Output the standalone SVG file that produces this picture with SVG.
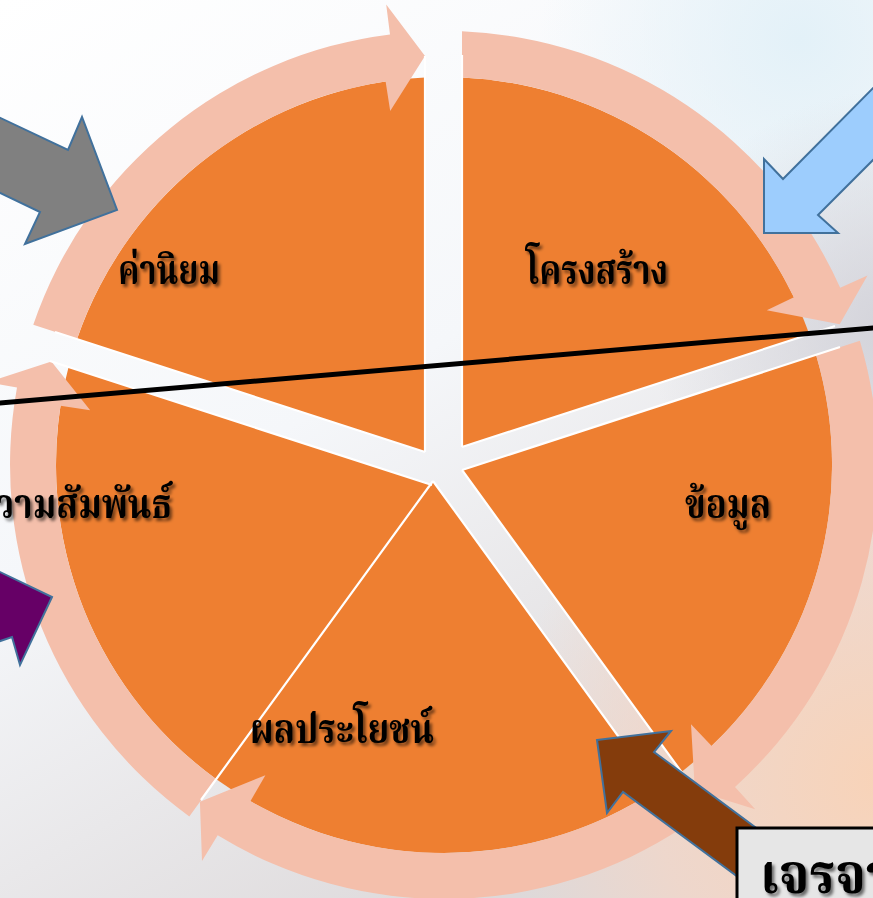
<svg xmlns="http://www.w3.org/2000/svg" width="873" height="898" viewBox="0 0 873 898">
<defs>
<linearGradient id="bg" gradientUnits="userSpaceOnUse" x1="0" y1="0" x2="500" y2="898">
<stop offset="0" stop-color="#ffffff"/><stop offset="0.5" stop-color="#f5f7fa"/><stop offset="1" stop-color="#ddd9da"/>
</linearGradient>
<radialGradient id="tr" gradientUnits="userSpaceOnUse" cx="800" cy="40" r="260">
<stop offset="0" stop-color="#e3f1f8"/><stop offset="1" stop-color="#e3f1f8" stop-opacity="0"/>
</radialGradient>
<radialGradient id="rm" gradientUnits="userSpaceOnUse" cx="890" cy="330" r="240">
<stop offset="0" stop-color="#d3d3da"/><stop offset="1" stop-color="#d3d3da" stop-opacity="0"/>
</radialGradient>
<radialGradient id="br" gradientUnits="userSpaceOnUse" cx="880" cy="780" r="380">
<stop offset="0" stop-color="#f8d3b8"/><stop offset="0.6" stop-color="#f5d6c6" stop-opacity="0.7"/><stop offset="1" stop-color="#f5d6c6" stop-opacity="0"/>
</radialGradient>
<filter id="sh" x="-20%" y="-30%" width="140%" height="160%">
<feDropShadow dx="2.5" dy="3" stdDeviation="1.5" flood-color="#000" flood-opacity="0.55"/>
</filter>
<style>
.seg{fill:#ee7f31}
.ring{fill:#f4bfab}
.edge{stroke:#fff;stroke-width:2.2;fill:none}
.lbl{font-family:"Noto Serif Thai","Noto Sans Thai Looped","Noto Sans Thai","Loma","Garuda","Noto Sans",sans-serif;font-weight:bold;font-size:40px;fill:#000;filter:url(#sh)}
.blk{stroke:#41719c;stroke-width:2;stroke-linejoin:miter}
</style>
</defs>
<g id="background">
<rect width="873" height="898" fill="url(#bg)"/>
<rect width="873" height="898" fill="url(#tr)"/>
<rect width="873" height="898" fill="url(#rm)"/>
<rect width="873" height="898" fill="url(#br)"/>
</g>
<g id="node-values">
<path class="seg" d="M425,452 L425,77.47 A388,388 0 0 0 77.04,338.95 Z"/>
<path class="ring" d="M33.28,324.74 A434,434 0 0 1 390,34.4 L386.2,4.6 L425,56 L390.2,111.1 L385.6,81.4 A388,388 0 0 0 77.04,338.95 Z"/>
</g>
<g id="node-structure">
<path class="seg" d="M462,447 L462,77.42 A388,388 0 0 1 809.3,334.2 Z"/>
<path class="ring" d="M462,31.37 A434,434 0 0 1 840.2,287.8 L867.5,275.5 L839.7,324.3 L766.8,310.3 L793.9,297.3 A388,388 0 0 0 462,77.42 Z"/>
</g>
<g id="node-data">
<path class="seg" d="M462,470 L816.1,354.96 A388,388 0 0 1 681.4,771.9 Z"/>
<path class="ring" d="M859.85,340.74 A434,434 0 0 1 735,786.9 L755.2,809.2 L694.9,790.5 L691,724.2 L711.7,745.9 A388,388 0 0 0 816.1,354.96 Z"/>
</g>
<g id="node-benefit">
<path class="seg" d="M433,481 L657,789.3 A388,388 0 0 1 216.35,779.2 Z"/>
<path class="ring" d="M684.1,826.6 A434,434 0 0 1 217.7,835.3 L202,860.9 L199.9,801.8 L265.4,775.2 L250.4,801.2 A388,388 0 0 0 657,789.3 Z"/>
</g>
<g id="node-relation">
<path class="seg" d="M433,481 L216.35,779.2 A388,388 0 0 1 68.6,366.9 L432,485 Z"/>
<path class="ring" d="M189.3,816.4 A434,434 0 0 1 17,387.5 L-12.5,382.2 L51.4,361.4 L90.2,410.3 L60.5,405.8 A388,388 0 0 0 216.35,779.2 Z"/>
</g>
<g id="segment-edges">
<path class="edge" d="M425,452 L425,56 M462,447 L462,55 M462,447 L835,326 M462,470 L840,347 M462,470 L696,792 M433,481 L671,809 M433,481 L201,800 M432,485 L50,361 M425,452 L55,332"/>
</g>
<g id="labels">
<text class="lbl" x="118" y="284" textLength="102" lengthAdjust="spacingAndGlyphs">ค่านิยม</text>
<text class="lbl" x="526" y="284" textLength="142" lengthAdjust="spacingAndGlyphs">โครงสร้าง</text>
<text class="lbl" x="685" y="518" textLength="86" lengthAdjust="spacingAndGlyphs">ข้อมูล</text>
<text class="lbl" x="-28" y="518" textLength="200" lengthAdjust="spacingAndGlyphs">ความสัมพันธ์</text>
<text class="lbl" x="250" y="743" textLength="184" lengthAdjust="spacingAndGlyphs">ผลประโยชน์</text>
</g>
<g id="connectors">
<line x1="-5" y1="403.4" x2="880" y2="327.4" stroke="#000" stroke-width="5"/>
<polygon id="arrow-gray" class="blk" fill="#808080" points="-10,113 68,150 82,117 117,210 25,244 40,212 -10,188"/>
<polygon id="arrow-blue" class="blk" fill="#9dcdfd" points="880,81 783,179 764,159 764,233 838,233 818,215 880,153"/>
<polygon id="arrow-purple" class="blk" fill="#660066" points="52,597 20,665 12,637 -40,655 -70,560 -15.6,564.5"/>
<polygon id="arrow-brown" class="blk" fill="#843c0c" points="597,740 671,731 654,752 810,868 780,908 623,792 607,813"/>
</g>
<g id="node-negotiation">
<rect x="737" y="828" width="150" height="80" fill="#e6e6e6" stroke="#000" stroke-width="3"/>
<text class="lbl" x="760" y="893" style="font-size:56px" textLength="133" lengthAdjust="spacingAndGlyphs">เจรจา</text>
</g>
</svg>
